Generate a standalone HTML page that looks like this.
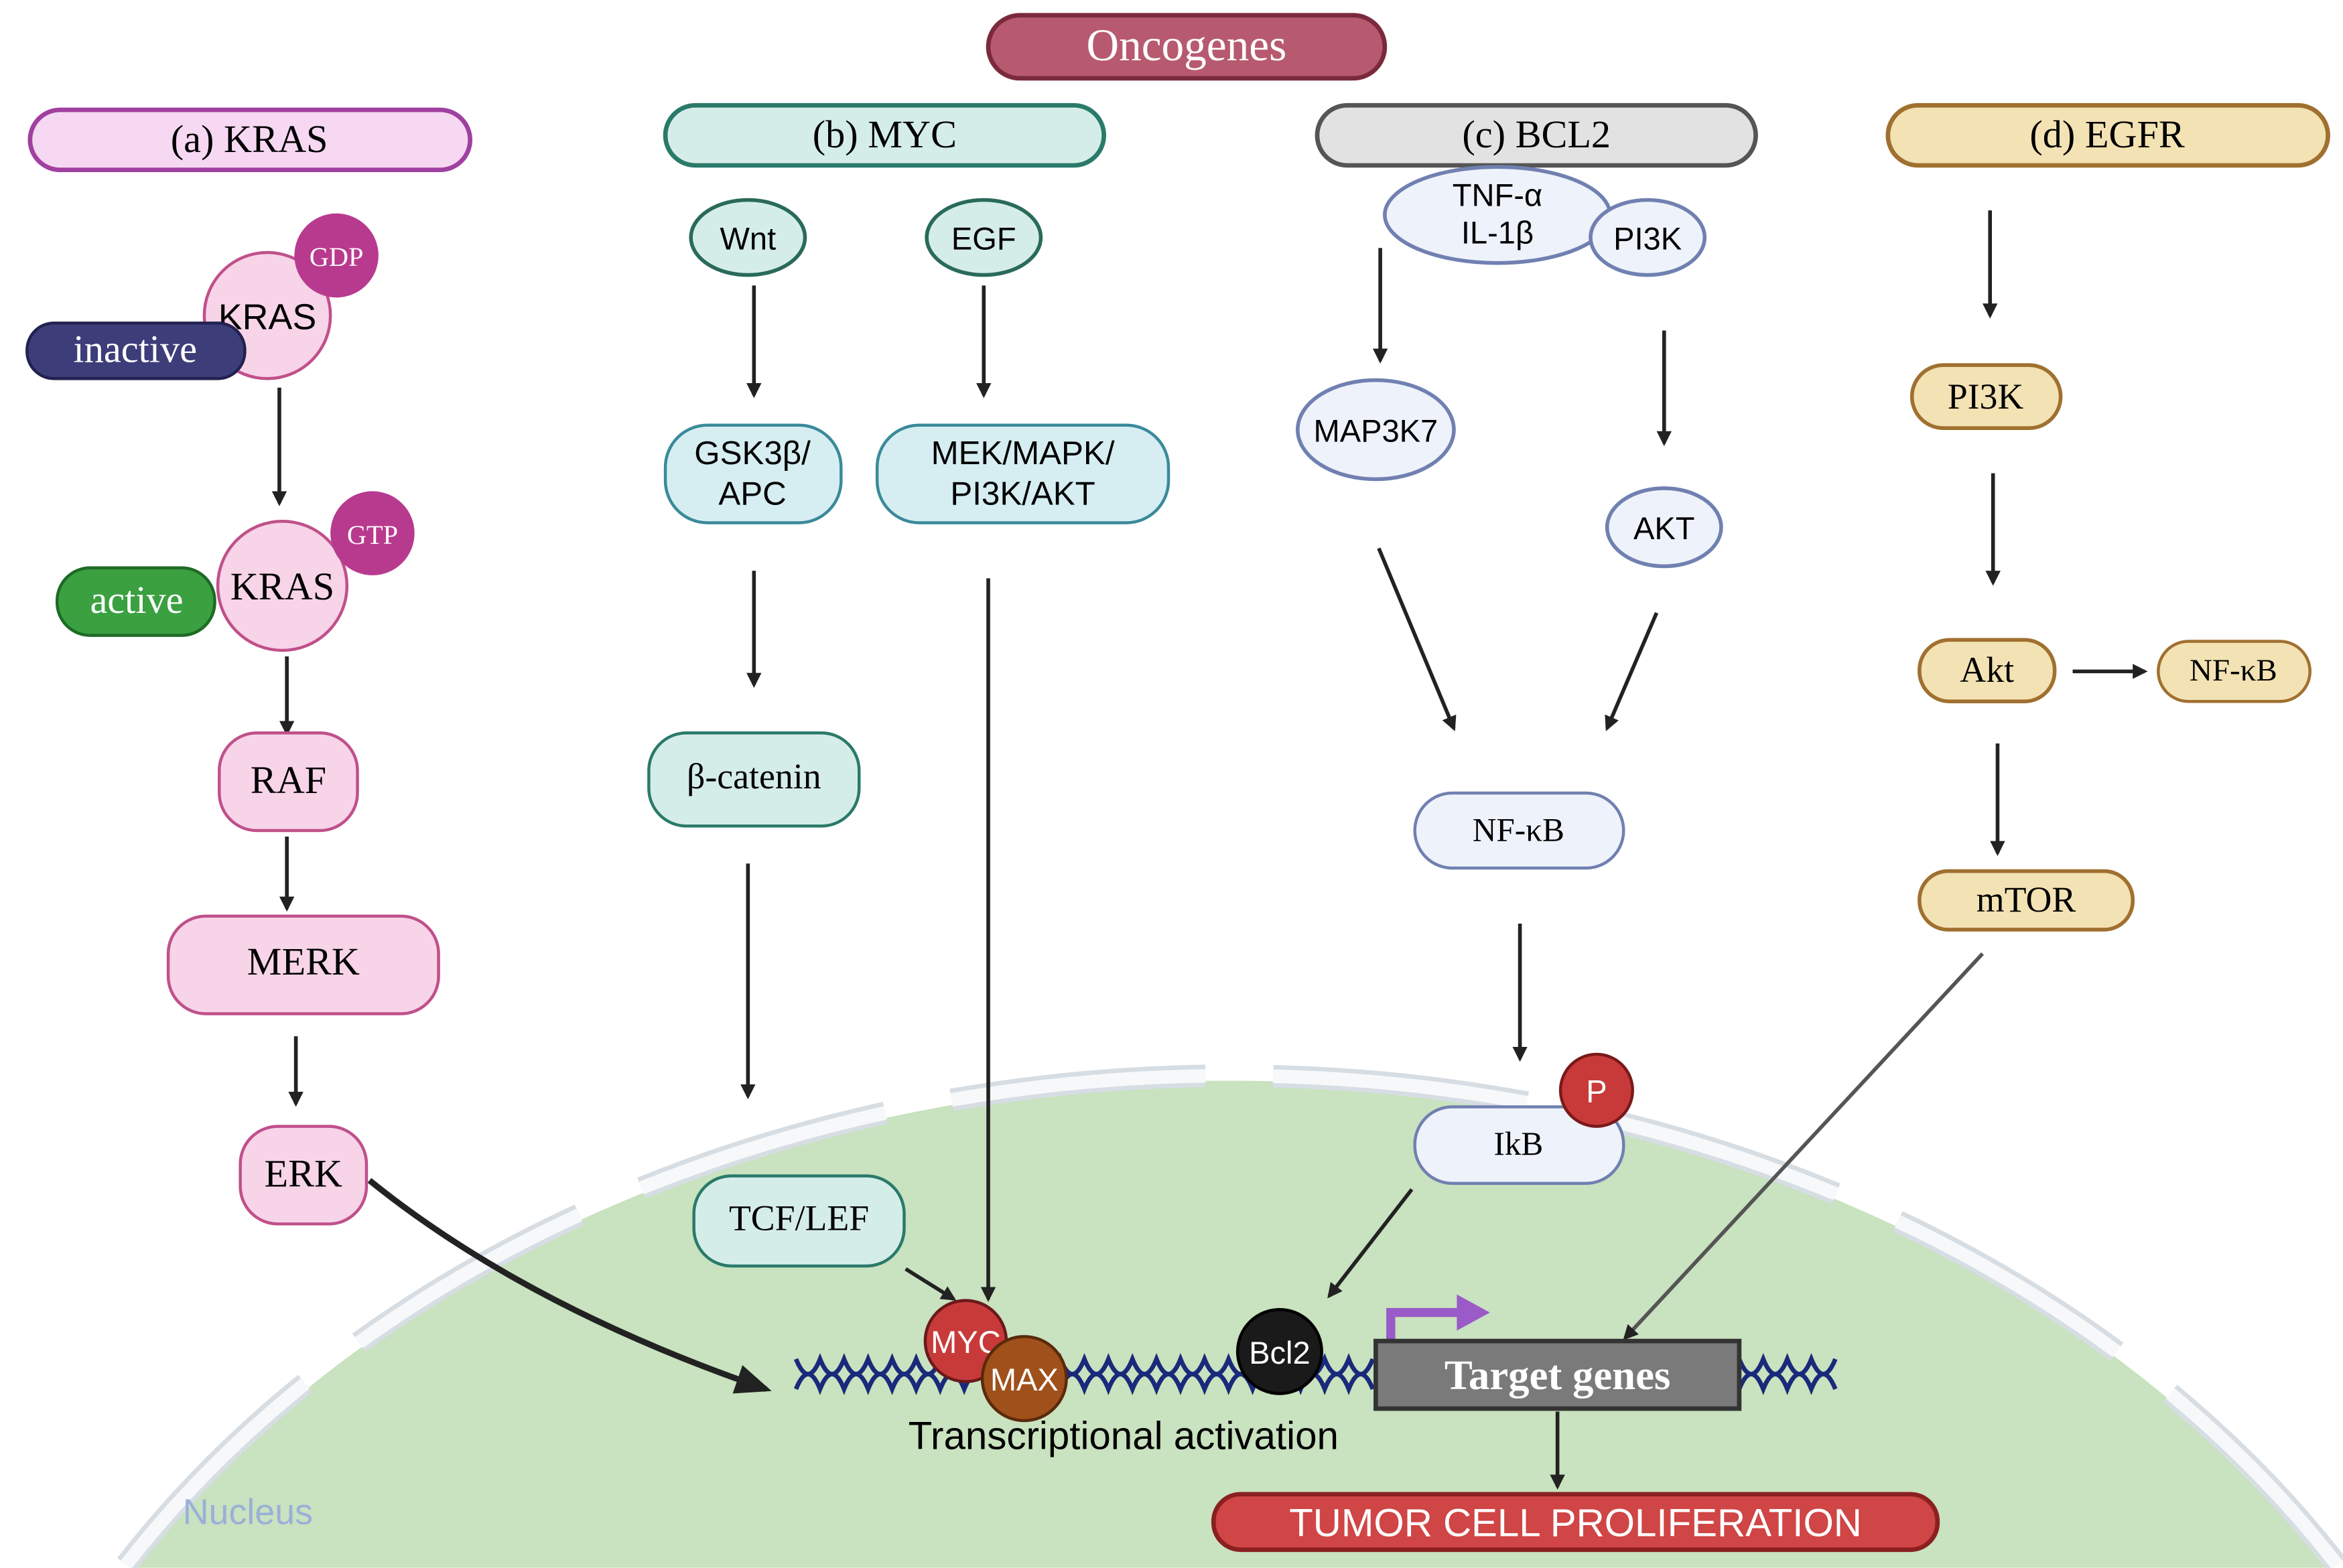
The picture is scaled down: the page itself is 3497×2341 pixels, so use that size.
<!DOCTYPE html>
<html><head><meta charset="utf-8"><style>
html,body{margin:0;padding:0;background:#fff;width:3497px;height:2341px;overflow:hidden;}
svg{display:block;}
.s{font-family:"Liberation Serif",serif;}
.a{font-family:"Liberation Sans","DejaVu Sans",sans-serif;}
</style></head><body>
<svg width="3497" height="2341" viewBox="0 0 1560 1044" xmlns="http://www.w3.org/2000/svg">
<defs>
<marker id="ah" markerWidth="10" markerHeight="10" refX="8" refY="5" orient="auto" markerUnits="userSpaceOnUse"><path d="M0,0 L10,5 L0,10 z" fill="#222"/></marker>
<marker id="ahb" markerWidth="24" markerHeight="24" refX="20" refY="12" orient="auto" markerUnits="userSpaceOnUse"><path d="M0,2 L24,12 L0,22 z" fill="#222"/></marker>
</defs>
<rect width="1560" height="1044" fill="#fff"/>
<path d="M87,1044 A860,680 0 0,1 1553,1044 Z" fill="#c9e2bf"/>
<path d="M84,1042 A864,684 0 0,1 1556,1042" fill="none" stroke="#d6dde3" stroke-width="15" stroke-dasharray="170 45"/>
<path d="M84,1042 A864,684 0 0,1 1556,1042" fill="none" stroke="#f6f8fa" stroke-width="9" stroke-dasharray="170 45"/>
<text x="165" y="1015" class="a" font-size="24" fill="#9ab0d8" text-anchor="middle">Nucleus</text>

<rect x="658" y="10" width="264" height="42" rx="21" fill="#b75a6f" stroke="#7a2a3c" stroke-width="3"/>
<text x="790" y="40" class="s" font-size="30" fill="#fff" text-anchor="middle">Oncogenes</text>
<rect x="20" y="73" width="293" height="40" rx="20" fill="#f6d8f2" stroke="#a040a0" stroke-width="3"/>
<text x="166" y="101" class="s" font-size="26" text-anchor="middle">(a) KRAS</text>
<rect x="443" y="70" width="292" height="40" rx="20" fill="#d5ede8" stroke="#2a7a6a" stroke-width="3"/>
<text x="589" y="98" class="s" font-size="26" text-anchor="middle">(b) MYC</text>
<rect x="877" y="70" width="292" height="40" rx="20" fill="#e2e2e2" stroke="#555" stroke-width="3"/>
<text x="1023" y="98" class="s" font-size="26" text-anchor="middle">(c) BCL2</text>
<rect x="1257" y="70" width="293" height="40" rx="20" fill="#f3e2b3" stroke="#a07030" stroke-width="3"/>
<text x="1403" y="98" class="s" font-size="26" text-anchor="middle">(d) EGFR</text>

<circle cx="178" cy="210" r="42" fill="#f7d4e8" stroke="#c0508a" stroke-width="2"/>
<circle cx="224" cy="170" r="28" fill="#b83a8e"/>
<text x="224" y="177" class="s" font-size="18" fill="#fff" text-anchor="middle">GDP</text>
<text x="178" y="219" class="a" font-size="24" text-anchor="middle">KRAS</text>
<rect x="18" y="215" width="145" height="37" rx="18" fill="#3d3d7a" stroke="#222250" stroke-width="2"/>
<text x="90" y="241" class="s" font-size="26" fill="#fff" text-anchor="middle">inactive</text>
<line x1="186" y1="258" x2="186" y2="335" stroke="#222" stroke-width="2.5" marker-end="url(#ah)"/>
<circle cx="188" cy="390" r="43" fill="#f7d4e8" stroke="#c0508a" stroke-width="2"/>
<circle cx="248" cy="355" r="28" fill="#b83a8e"/>
<text x="248" y="362" class="s" font-size="18" fill="#fff" text-anchor="middle">GTP</text>
<rect x="38" y="378" width="105" height="45" rx="22" fill="#3aa040" stroke="#1e6a25" stroke-width="2"/>
<text x="91" y="408" class="s" font-size="26" fill="#fff" text-anchor="middle">active</text>
<text x="188" y="399" class="s" font-size="26" text-anchor="middle">KRAS</text>
<line x1="191" y1="437" x2="191" y2="488" stroke="#222" stroke-width="2.5" marker-end="url(#ah)"/>
<rect x="146" y="488" width="92" height="65" rx="25" fill="#f7d4e8" stroke="#c0508a" stroke-width="2"/>
<text x="192" y="528" class="s" font-size="26" text-anchor="middle">RAF</text>
<line x1="191" y1="557" x2="191" y2="605" stroke="#222" stroke-width="2.5" marker-end="url(#ah)"/>
<rect x="112" y="610" width="180" height="65" rx="25" fill="#f7d4e8" stroke="#c0508a" stroke-width="2"/>
<text x="202" y="649" class="s" font-size="26" text-anchor="middle">MERK</text>
<line x1="197" y1="690" x2="197" y2="735" stroke="#222" stroke-width="2.5" marker-end="url(#ah)"/>
<rect x="160" y="750" width="84" height="65" rx="25" fill="#f7d4e8" stroke="#c0508a" stroke-width="2"/>
<text x="202" y="790" class="s" font-size="26" text-anchor="middle">ERK</text>
<path d="M246,786 Q350,870 510,925" fill="none" stroke="#222" stroke-width="4" marker-end="url(#ahb)"/>

<ellipse cx="498" cy="158" rx="38" ry="25" fill="#d5ede8" stroke="#2a6a5a" stroke-width="2.5"/>
<text x="498" y="166" class="a" font-size="21" text-anchor="middle">Wnt</text>
<ellipse cx="655" cy="158" rx="38" ry="25" fill="#d5ede8" stroke="#2a6a5a" stroke-width="2.5"/>
<text x="655" y="166" class="a" font-size="21" text-anchor="middle">EGF</text>
<line x1="502" y1="190" x2="502" y2="263" stroke="#222" stroke-width="2.5" marker-end="url(#ah)"/>
<line x1="655" y1="190" x2="655" y2="263" stroke="#222" stroke-width="2.5" marker-end="url(#ah)"/>
<rect x="443" y="283" width="117" height="65" rx="28" fill="#d6eef2" stroke="#3a8a9a" stroke-width="2"/>
<text x="501" y="309" class="a" font-size="22" text-anchor="middle">GSK3β/</text>
<text x="501" y="336" class="a" font-size="22" text-anchor="middle">APC</text>
<rect x="584" y="283" width="194" height="65" rx="28" fill="#d6eef2" stroke="#3a8a9a" stroke-width="2"/>
<text x="681" y="309" class="a" font-size="22" text-anchor="middle">MEK/MAPK/</text>
<text x="681" y="336" class="a" font-size="22" text-anchor="middle">PI3K/AKT</text>
<line x1="502" y1="380" x2="502" y2="456" stroke="#222" stroke-width="2.5" marker-end="url(#ah)"/>
<rect x="432" y="488" width="140" height="62" rx="25" fill="#d5ede8" stroke="#2a7a6a" stroke-width="2"/>
<text x="502" y="525" class="s" font-size="24" text-anchor="middle">β-catenin</text>
<line x1="498" y1="575" x2="498" y2="730" stroke="#222" stroke-width="2.5" marker-end="url(#ah)"/>
<rect x="462" y="783" width="140" height="60" rx="25" fill="#d5ede8" stroke="#2a7a6a" stroke-width="2"/>
<text x="532" y="819" class="s" font-size="24" text-anchor="middle">TCF/LEF</text>
<line x1="658" y1="385" x2="658" y2="865" stroke="#222" stroke-width="2.5" marker-end="url(#ah)"/>
<line x1="603" y1="845" x2="635" y2="865" stroke="#222" stroke-width="2.5" marker-end="url(#ah)"/>

<ellipse cx="997" cy="143" rx="75" ry="32" fill="#eef2fa" stroke="#7080b0" stroke-width="2.5"/>
<text x="997" y="137" class="a" font-size="21" text-anchor="middle">TNF-α</text>
<text x="997" y="162" class="a" font-size="21" text-anchor="middle">IL-1β</text>
<ellipse cx="1097" cy="158" rx="38" ry="25" fill="#eef2fa" stroke="#7080b0" stroke-width="2.5"/>
<text x="1097" y="166" class="a" font-size="21" text-anchor="middle">PI3K</text>
<line x1="919" y1="165" x2="919" y2="240" stroke="#222" stroke-width="2.5" marker-end="url(#ah)"/>
<line x1="1108" y1="220" x2="1108" y2="295" stroke="#222" stroke-width="2.5" marker-end="url(#ah)"/>
<ellipse cx="916" cy="286" rx="52" ry="33" fill="#eef2fa" stroke="#7080b0" stroke-width="2.5"/>
<text x="916" y="294" class="a" font-size="21" text-anchor="middle">MAP3K7</text>
<ellipse cx="1108" cy="351" rx="38" ry="26" fill="#eef2fa" stroke="#7080b0" stroke-width="2.5"/>
<text x="1108" y="359" class="a" font-size="21" text-anchor="middle">AKT</text>
<line x1="918" y1="365" x2="968" y2="485" stroke="#222" stroke-width="2.5" marker-end="url(#ah)"/>
<line x1="1103" y1="408" x2="1070" y2="485" stroke="#222" stroke-width="2.5" marker-end="url(#ah)"/>
<rect x="942" y="528" width="139" height="50" rx="25" fill="#eef2fa" stroke="#7080b0" stroke-width="2"/>
<text x="1011" y="560" class="s" font-size="22" text-anchor="middle">NF-κB</text>
<line x1="1012" y1="615" x2="1012" y2="705" stroke="#222" stroke-width="2.5" marker-end="url(#ah)"/>
<rect x="942" y="737" width="139" height="51" rx="25" fill="#eef2fa" stroke="#7080b0" stroke-width="2"/>
<text x="1011" y="769" class="s" font-size="22" text-anchor="middle">IkB</text>
<circle cx="1063" cy="726" r="24" fill="#c83a3a" stroke="#7a1a1a" stroke-width="2"/>
<text x="1063" y="734" class="a" font-size="21" fill="#fff" text-anchor="middle">P</text>
<line x1="940" y1="792" x2="885" y2="863" stroke="#222" stroke-width="2.5" marker-end="url(#ah)"/>

<line x1="1325" y1="140" x2="1325" y2="210" stroke="#222" stroke-width="2.5" marker-end="url(#ah)"/>
<rect x="1273" y="243" width="99" height="42" rx="21" fill="#f3e2b3" stroke="#a07030" stroke-width="2.5"/>
<text x="1322" y="272" class="s" font-size="24" text-anchor="middle">PI3K</text>
<line x1="1327" y1="315" x2="1327" y2="388" stroke="#222" stroke-width="2.5" marker-end="url(#ah)"/>
<rect x="1278" y="426" width="90" height="41" rx="20" fill="#f3e2b3" stroke="#a07030" stroke-width="2.5"/>
<text x="1323" y="454" class="s" font-size="24" text-anchor="middle">Akt</text>
<line x1="1380" y1="447" x2="1428" y2="447" stroke="#222" stroke-width="2.5" marker-end="url(#ah)"/>
<rect x="1437" y="427" width="101" height="40" rx="20" fill="#f3e2b3" stroke="#a07030" stroke-width="2"/>
<text x="1487" y="453" class="s" font-size="21" text-anchor="middle">NF-κB</text>
<line x1="1330" y1="495" x2="1330" y2="568" stroke="#222" stroke-width="2.5" marker-end="url(#ah)"/>
<rect x="1278" y="580" width="142" height="39" rx="19" fill="#f3e2b3" stroke="#a07030" stroke-width="2.5"/>
<text x="1349" y="607" class="s" font-size="24" text-anchor="middle">mTOR</text>
<line x1="1320" y1="635" x2="1082" y2="891" stroke="#555" stroke-width="2.5" marker-end="url(#ah)"/>

<path d="M530,905 q8,20 16,0 q8,20 16,0 q8,20 16,0 q8,20 16,0 q8,20 16,0 q8,20 16,0 q8,20 16,0 q8,20 16,0 q8,20 16,0 q8,20 16,0 q8,20 16,0 q8,20 16,0 q8,20 16,0 q8,20 16,0 q8,20 16,0 q8,20 16,0 q8,20 16,0 q8,20 16,0 q8,20 16,0 q8,20 16,0 q8,20 16,0 q8,20 16,0 q8,20 16,0 q8,20 16,0" fill="none" stroke="#1a2a7a" stroke-width="3"/>
<path d="M530,925 q8,-20 16,0 q8,-20 16,0 q8,-20 16,0 q8,-20 16,0 q8,-20 16,0 q8,-20 16,0 q8,-20 16,0 q8,-20 16,0 q8,-20 16,0 q8,-20 16,0 q8,-20 16,0 q8,-20 16,0 q8,-20 16,0 q8,-20 16,0 q8,-20 16,0 q8,-20 16,0 q8,-20 16,0 q8,-20 16,0 q8,-20 16,0 q8,-20 16,0 q8,-20 16,0 q8,-20 16,0 q8,-20 16,0 q8,-20 16,0" fill="none" stroke="#1a2a7a" stroke-width="3"/>
<path d="M1158,905 q8,20 16,0 q8,20 16,0 q8,20 16,0 q8,20 16,0 M1158,925 q8,-20 16,0 q8,-20 16,0 q8,-20 16,0 q8,-20 16,0" fill="none" stroke="#1a2a7a" stroke-width="3"/>
<circle cx="643" cy="893" r="27" fill="#c83a3a" stroke="#6a1a1a" stroke-width="2"/>
<text x="643" y="901" class="a" font-size="21" fill="#fff" text-anchor="middle">MYC</text>
<circle cx="682" cy="918" r="28" fill="#a0501a" stroke="#5a2a0a" stroke-width="2"/>
<text x="682" y="926" class="a" font-size="21" fill="#fff" text-anchor="middle">MAX</text>
<circle cx="852" cy="900" r="28" fill="#1a1a1a" stroke="#000" stroke-width="2"/>
<text x="852" y="908" class="a" font-size="21" fill="#fff" text-anchor="middle">Bcl2</text>
<path d="M926,893 V874 H975" fill="none" stroke="#9a5ac8" stroke-width="6"/>
<path d="M970,862 L992,874 L970,886 z" fill="#9a5ac8"/>
<rect x="916" y="893" width="242" height="45" fill="#7a7a7a" stroke="#333" stroke-width="3"/>
<text x="1037" y="925" class="s" font-size="28" font-weight="bold" fill="#fff" text-anchor="middle">Target genes</text>
<text x="748" y="965" class="a" font-size="26" text-anchor="middle">Transcriptional activation</text>
<line x1="1037" y1="940" x2="1037" y2="990" stroke="#222" stroke-width="2.5" marker-end="url(#ah)"/>
<rect x="808" y="995" width="482" height="37" rx="18" fill="#d04545" stroke="#8a2020" stroke-width="3"/>
<text x="1049" y="1023" class="a" font-size="26" fill="#fff" text-anchor="middle">TUMOR CELL PROLIFERATION</text>
</svg>
</body></html>
